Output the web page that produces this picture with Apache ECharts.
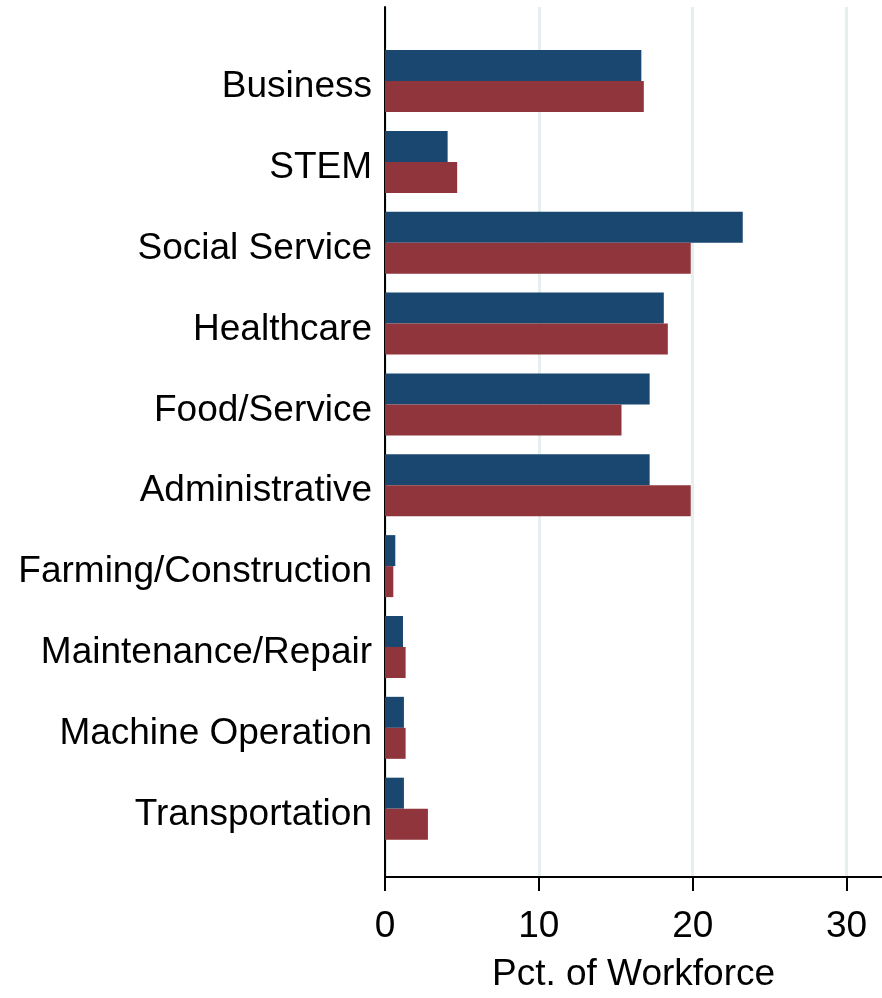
<!DOCTYPE html>
<html>
<head>
<meta charset="utf-8">
<script src="https://cdn.jsdelivr.net/npm/echarts@6/dist/echarts.min.js"></script>
<style>
html,body{margin:0;padding:0;background:#fff;}
#chart{width:882px;height:998px;}
</style>
</head>
<body>
<div id="chart"></div>
<script>
var categories = ['Business','STEM','Social Service','Healthcare','Food/Service','Administrative','Farming/Construction','Maintenance/Repair','Machine Operation','Transportation'];
var seriesBlue = [16.66, 4.07, 23.25, 18.12, 17.2, 17.2, 0.67, 1.17, 1.23, 1.23];
var seriesRed = [16.82, 4.69, 19.87, 18.38, 15.37, 19.87, 0.54, 1.34, 1.34, 2.79];
var xTicks = [0, 10, 20, 30];
var xName = 'Pct. of Workforce';

var FONT = '"Liberation Sans", Arial, sans-serif';
var chart = echarts.init(document.getElementById('chart'), null, {renderer:'canvas'});
var XMAX = 32.3;
chart.setOption({
  animation:false,
  backgroundColor:'#ffffff',
  textStyle:{fontFamily:FONT},
  grid:[
    {left:385, right:0, top:7, bottom:115},
    {left:385, right:0, top:40.6, bottom:148.9}
  ],
  xAxis:[
    {gridIndex:0, type:'value', min:0, max:XMAX,
     name:xName, nameLocation:'middle', nameGap:79,
     nameTextStyle:{fontSize:37, color:'#000', fontFamily:FONT},
     axisLine:{show:true, lineStyle:{color:'#000', width:2}},
     axisTick:{show:true, length:14, lineStyle:{color:'#000', width:2}, customValues:xTicks},
     axisLabel:{show:true, fontSize:37, color:'#000', fontFamily:FONT, margin:31, customValues:xTicks},
     splitLine:{show:true, lineStyle:{color:'#e6eff0', width:3}}
    },
    {gridIndex:1, type:'value', min:0, max:XMAX, show:false}
  ],
  yAxis:[
    {gridIndex:0, type:'value', min:0, max:1,
     axisLine:{show:true, lineStyle:{color:'#000', width:2}},
     axisTick:{show:false}, axisLabel:{show:false}, splitLine:{show:false}},
    {gridIndex:1, type:'category', data:categories, inverse:true,
     axisLine:{show:false}, axisTick:{show:false}, splitLine:{show:false},
     axisLabel:{fontSize:37, color:'#000', fontFamily:FONT, margin:13,
       formatter:function(v){ return '{a|' + v + '}'; },
       rich:{a:{fontSize:37, color:'#000', fontFamily:FONT, padding:[12,0,0,0]}}}}
  ],
  series:[
    {type:'bar', name:'Series 1', xAxisIndex:1, yAxisIndex:1, data:seriesBlue,
     barWidth:31, barGap:'0%', itemStyle:{color:'#1a476f'}},
    {type:'bar', name:'Series 2', xAxisIndex:1, yAxisIndex:1, data:seriesRed,
     barWidth:31, barGap:'0%', itemStyle:{color:'#90353b'}}
  ]
});
</script>
</body>
</html>
